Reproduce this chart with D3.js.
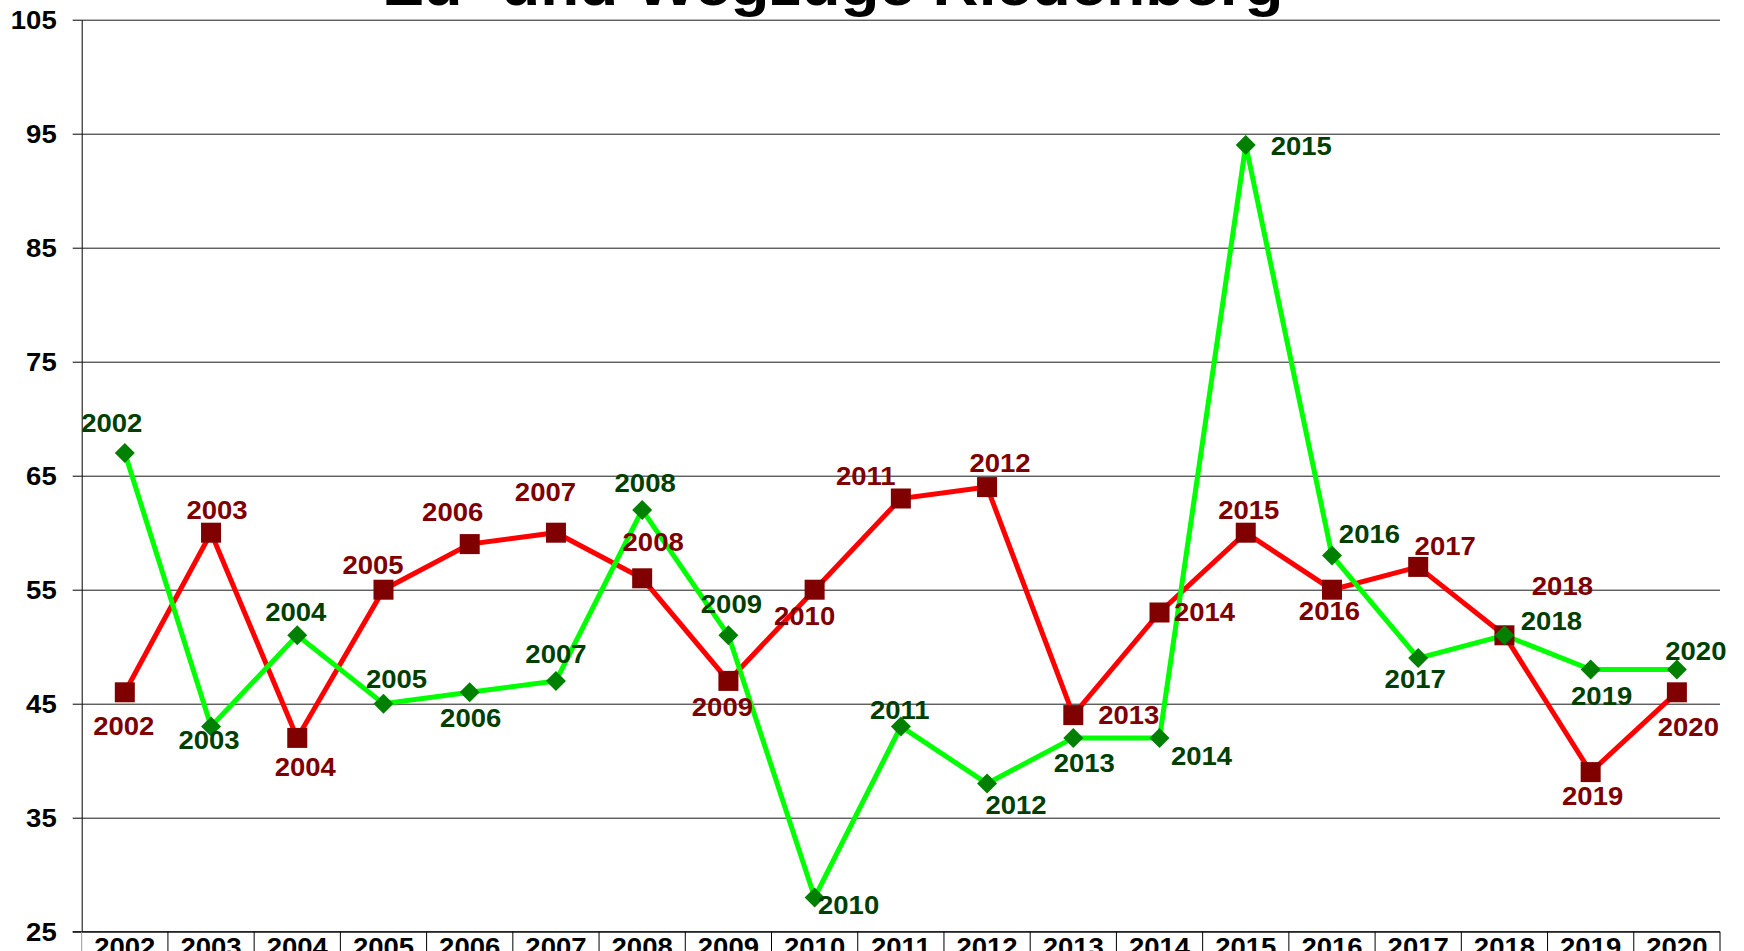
<!DOCTYPE html>
<html>
<head>
<meta charset="utf-8">
<script src="https://cdn.jsdelivr.net/npm/d3@7"></script>
<style>
  html, body { margin: 0; padding: 0; background: #fff; overflow: hidden; }
  svg { display: block; }
  text { font-family: Arial, "Liberation Sans", sans-serif; font-weight: bold; }
</style>
</head>
<body>
<svg id="chart" width="1744" height="951"></svg>
<script>
// ---------- data ----------
const title = "Zu- und Wegzüge Riedenberg";
const years = ["2002","2003","2004","2005","2006","2007","2008","2009","2010","2011",
               "2012","2013","2014","2015","2016","2017","2018","2019","2020"];
const zuzuege  = [67,43,51,45,46,47,62,51,28,43,38,42,42,94,58,49,51,48,48]; // green diamonds
const wegzuege = [46,60,42,55,59,60,56,47,55,63,64,44,53,60,55,57,51,39,46]; // red squares
const yTicks = [25,35,45,55,65,75,85,95,105];

// label placement (offset of label centre from its marker, px)
const zuLabelOffset = [[-13,-29.5],[-2,14],[-1.5,-23],[13,-25],[1,26],[0,-27],[3,-27],[3,-31],[34,7.5],[-1,-16],
                       [29,21.5],[11,25.5],[42,18.5],[55.5,1],[37.5,-21.5],[-3,21],[47,-14.5],[11,27],[19,-18]];
const wegLabelOffset = [[-1,34],[6,-23],[8,29],[-10.5,-25],[-17,-32.5],[-10.5,-41],[11,-36.5],[-6,26],[-10,26],[-35,-22],
                        [13,-24],[55.5,0],[45,0],[3,-23],[-2.5,21.5],[27,-21],[58,-49.5],[2,24],[11.5,34.5]];

// ---------- layout ----------
const plotL = 81.7, plotR = 1720, plotT = 19.7, plotB = 931.7;
const svg = d3.select("#chart");
const FS = 25, STRETCH = 1.1;

const x = d3.scaleBand().domain(years).range([plotL, plotR]).paddingInner(0).paddingOuter(0);
const y = d3.scaleLinear().domain([25, 105]).range([plotB, plotT]);
const cx = d => x(d) + x.bandwidth() / 2;

function stretch(sel) {
  sel.each(function () {
    const w = this.getComputedTextLength();
    d3.select(this).attr("textLength", w * STRETCH).attr("lengthAdjust", "spacingAndGlyphs");
  });
}

// gridlines
const grid = svg.append("g").attr("class", "grid")
  .attr("transform", `translate(${plotL},0)`)
  .call(d3.axisRight(y).tickValues(yTicks).tickSize(plotR - plotL).tickFormat(""));
grid.select(".domain").remove();
grid.selectAll("line").attr("stroke", "#1a1a1a").attr("stroke-width", 1);

// y axis
const yAxis = svg.append("g").attr("transform", `translate(${plotL},0)`)
  .call(d3.axisLeft(y).tickValues(yTicks).tickSize(9).tickPadding(16).tickSizeOuter(0));
yAxis.select(".domain").attr("stroke", "#000");
yAxis.selectAll("line").attr("stroke", "#000");
yAxis.selectAll("text").attr("font-size", FS).attr("fill", "#000")
  .attr("font-family", "Arial, 'Liberation Sans', sans-serif").attr("font-weight", "bold")
  .attr("dy", null).attr("y", 0.358 * FS).call(stretch);

// x axis (category table)
const xAxis = svg.append("g").attr("transform", `translate(0,${plotB})`)
  .call(d3.axisBottom(x).tickSize(0).tickPadding(0));
xAxis.select(".domain").attr("d", `M${plotL - 9},0H${plotR}`).attr("stroke", "#000");
xAxis.selectAll("text").attr("font-size", FS).attr("fill", "#000")
  .attr("font-family", "Arial, 'Liberation Sans', sans-serif").attr("font-weight", "bold")
  .attr("dy", null).attr("y", 24).call(stretch);
svg.append("g").selectAll("line")
  .data(years.concat(["end"]))
  .join("line")
  .attr("x1", d => d === "end" ? plotR : x(d))
  .attr("x2", d => d === "end" ? plotR : x(d))
  .attr("y1", plotB).attr("y2", 951)
  .attr("stroke", (d, i) => i === 0 ? "#999" : "#000").attr("stroke-width", 1);

// title
svg.append("text").attr("x", 834).attr("y", 5).attr("text-anchor", "middle")
  .attr("font-size", 58).attr("fill", "#000").text(title).call(stretch);

// lines
const line = d3.line().x((d, i) => cx(years[i])).y(d => y(d));
svg.append("path").datum(wegzuege).attr("d", line)
  .attr("fill", "none").attr("stroke", "#ff0000").attr("stroke-width", 5).attr("stroke-linejoin", "miter");
svg.append("path").datum(zuzuege).attr("d", line)
  .attr("fill", "none").attr("stroke", "#00ff00").attr("stroke-width", 5).attr("stroke-linejoin", "miter");

// markers
const SQ = 20, DI = 10;
svg.append("g").selectAll("rect").data(wegzuege).join("rect")
  .attr("x", (d, i) => cx(years[i]) - SQ / 2).attr("y", d => y(d) - SQ / 2)
  .attr("width", SQ).attr("height", SQ).attr("fill", "#800000");
svg.append("g").selectAll("path").data(zuzuege).join("path")
  .attr("d", (d, i) => {
    const px = cx(years[i]), py = y(d);
    return `M${px},${py - DI}L${px + DI},${py}L${px},${py + DI}L${px - DI},${py}Z`;
  })
  .attr("fill", "#008000");

// data labels (category name)
svg.append("g").selectAll("text").data(wegzuege).join("text")
  .attr("x", (d, i) => cx(years[i]) + wegLabelOffset[i][0])
  .attr("y", (d, i) => y(d) + wegLabelOffset[i][1] + 0.358 * FS)
  .attr("text-anchor", "middle").attr("font-size", FS).attr("fill", "#7f0000")
  .text((d, i) => years[i]).call(stretch);
svg.append("g").selectAll("text").data(zuzuege).join("text")
  .attr("x", (d, i) => cx(years[i]) + zuLabelOffset[i][0])
  .attr("y", (d, i) => y(d) + zuLabelOffset[i][1] + 0.358 * FS)
  .attr("text-anchor", "middle").attr("font-size", FS).attr("fill", "#003f00")
  .text((d, i) => years[i]).call(stretch);
</script>
</body>
</html>
